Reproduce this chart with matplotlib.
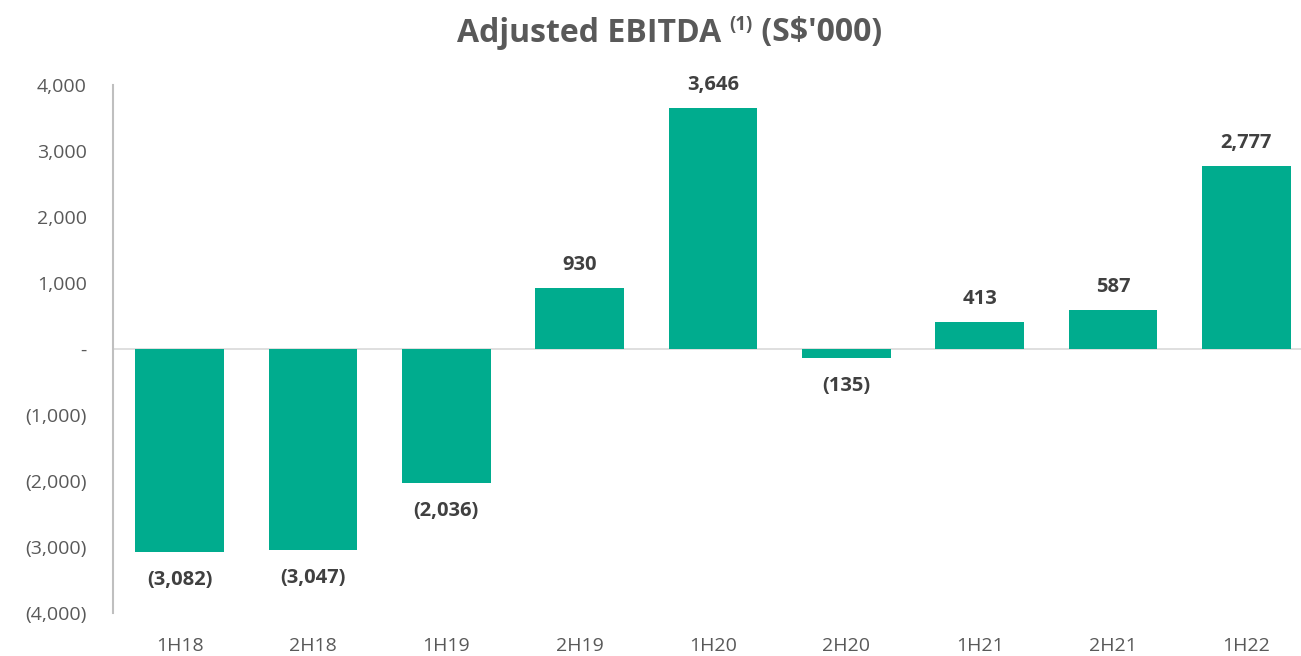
import matplotlib.pyplot as plt
from matplotlib.ticker import FuncFormatter
from matplotlib.text import Annotation

periods = ['1H18', '2H18', '1H19', '2H19', '1H20', '2H20', '1H21', '2H21', '1H22']
ebitda = [-3082, -3047, -2036, 930, 3646, -135, 413, 587, 2777]

bar_color = '#00AC8E'
text_grey = '#595959'
label_grey = '#404040'

plt.rcParams['font.family'] = ['Open Sans', 'DejaVu Sans']


def fmt(v, pos=None):
    if v == 0:
        return '-'
    if v < 0:
        return '({:,.0f})'.format(-v)
    return '{:,.0f}'.format(v)


fig = plt.figure(figsize=(13.01, 6.56), dpi=100)
# axes: left 113px, right ~1313px, top 85px, bottom 613px
ax = fig.add_axes([113 / 1301, (656 - 613) / 656, 1200 / 1301, 528 / 656])

x = range(len(periods))
ax.bar(x, ebitda, width=0.667, color=bar_color, zorder=2)
ax.axhline(0, color='#D9D9D9', lw=1.2, zorder=1)

ax.set_xlim(-0.5, 8.5)
ax.set_ylim(-4000, 4000)
ax.set_yticks(range(-4000, 4001, 1000))
ax.yaxis.set_major_formatter(FuncFormatter(fmt))
ax.set_xticks(list(x))
ax.set_xticklabels(periods)
ax.tick_params(axis='y', length=0, pad=19, labelsize=14, labelcolor=text_grey)
ax.tick_params(axis='x', length=0, pad=17, labelsize=14, labelcolor=text_grey)

for s in ['top', 'right', 'bottom']:
    ax.spines[s].set_visible(False)
ax.spines['left'].set_color('#BFBFBF')
ax.spines['left'].set_linewidth(1.5)

for i, v in enumerate(ebitda):
    off = 16.5 if v >= 0 else -20
    ax.annotate(fmt(v), (i, v), xytext=(0, off), textcoords='offset points',
                ha='center', va='center', fontsize=14.5, fontweight='bold',
                color=label_grey)

# title with superscript
t1 = fig.text(457 / 1301, 1 - 33 / 656, 'Adjusted EBITDA ', fontsize=23,
              fontweight='bold', color=text_grey, ha='left', va='center')
sup = fig.add_artist(Annotation('(1)', xy=(1, 0), xycoords=t1, xytext=(0, 10.5),
                                textcoords='offset points', fontsize=13.5,
                                fontweight='bold', color=text_grey, va='bottom'))
fig.add_artist(Annotation(" (S$'000)", xy=(1, 0), xycoords=(sup, t1),
                          fontsize=23, fontweight='bold', color=text_grey,
                          va='bottom'))

fig.savefig('out.png', dpi=100)
